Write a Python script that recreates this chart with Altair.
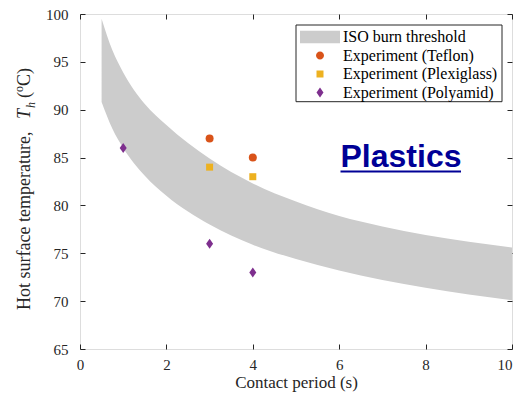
import altair as alt
import pandas as pd

# ISO burn threshold band
contact_time = [0.5, 0.75, 1, 1.5, 2, 3, 4, 5, 6, 7, 8, 9, 10]
iso_upper = [99.5, 96.2, 93.9, 90.6, 88.4, 84.9, 82.3, 80.4, 78.9, 77.8, 76.9, 76.2, 75.6]
iso_lower = [90.8, 88.0, 86.0, 83.1, 81.0, 78.0, 75.9, 74.4, 73.2, 72.2, 71.4, 70.7, 70.1]

# Experiments
teflon_t = [3, 4]
teflon_T = [87, 85]
plexi_t = [3, 4]
plexi_T = [84, 83]
poly_t = [1, 3, 4]
poly_T = [86, 76, 73]

series = ["ISO burn threshold", "Experiment (Teflon)",
          "Experiment (Plexiglass)", "Experiment (Polyamid)"]
colors = ["#cccccc", "#D95319", "#EDB120", "#7E2F8E"]
x_ticks = [0, 2, 4, 6, 8, 10]
y_ticks = [65, 70, 75, 80, 85, 90, 95, 100]

FONT = "Liberation Serif"
INK = "#262626"

band_df = pd.DataFrame({"t": contact_time, "upper": iso_upper, "lower": iso_lower})
teflon_df = pd.DataFrame({"t": teflon_t, "T": teflon_T})
plexi_df = pd.DataFrame({"t": plexi_t, "T": plexi_T})
poly_df = pd.DataFrame({"t": poly_t, "T": poly_T})
legend_df = pd.DataFrame({"series": series})

xs = alt.Scale(domain=[0, 10], nice=False, zero=False)
ys = alt.Scale(domain=[65, 100], nice=False, zero=False)

common_axis = dict(offset=-5, tickSize=5, domain=False, grid=False,
                   tickColor=INK, tickWidth=1, labelFont=FONT, labelFontSize=15,
                   labelColor=INK, titleFont=FONT, titleFontSize=17,
                   titleColor=INK, titleFontWeight="normal")

band = alt.Chart(band_df).mark_area(color="#cccccc", interpolate="monotone").encode(
    x=alt.X("t:Q", scale=xs,
            axis=alt.Axis(values=x_ticks, orient="bottom", title="Contact period (s)",
                          labelPadding=8, titlePadding=2,
                          labelAlign={"condition": {"test": "datum.value == 10", "value": "right"},
                                      "value": "center"},
                          **common_axis)),
    y=alt.Y("upper:Q", scale=ys,
            axis=alt.Axis(values=y_ticks, orient="left", title=None,
                          labelPadding=12, **common_axis)),
    y2="lower:Q",
)

frame_ticks = alt.Chart(band_df).mark_area(opacity=0).encode(
    x=alt.X("t:Q", scale=xs,
            axis=alt.Axis(values=x_ticks, orient="top", title=None, labels=False,
                          **common_axis)),
    y=alt.Y("upper:Q", scale=ys,
            axis=alt.Axis(values=y_ticks, orient="right", title=None, labels=False,
                          **common_axis)),
)

def pts(df, color, shape, size):
    return alt.Chart(df).mark_point(filled=True, opacity=1, color=color,
                                    shape=shape, size=size).encode(
        x=alt.X("t:Q", scale=xs, axis=None),
        y=alt.Y("T:Q", scale=ys, axis=None),
    )

diamond = "M0,-1.25L0.875,0L0,1.25L-0.875,0Z"
teflon = pts(teflon_df, colors[1], "circle", 64)
plexi = pts(plexi_df, colors[2], "square", 49)
poly = pts(poly_df, colors[3], diamond, 64)

leg_shapes = [
    "M-2,-1.56H8V1.56H-2Z",
    "M4,0A1,1 0 1,1 2,0A1,1 0 1,1 4,0Z",
    "M2.125,-0.875H3.875V0.875H2.125Z",
    "M3,-1.25L3.875,0L3,1.25L2.125,0Z",
]

leg = dict(title=None, orient="none", legendX=216, legendY=11,
           symbolSize=64, symbolStrokeWidth=0, symbolOpacity=1,
           labelFont=FONT, labelFontSize=16, labelColor="black",
           labelOffset=27, padding=4, rowPadding=2.5)

# legend frame (drawn under the legend entries)
frame_df = pd.DataFrame({"a": [0]})
legend_box = alt.Chart(frame_df).mark_rect(fill="white", stroke=INK, strokeWidth=1).encode(
    x=alt.value(216), x2=alt.value(422), y=alt.value(11), y2=alt.value(87.7))

legend_layer = alt.Chart(legend_df).mark_point(filled=True, opacity=1, clip=True).encode(
    x=alt.value(-1000),
    y=alt.value(-1000),
    color=alt.Color("series:N", scale=alt.Scale(domain=series, range=colors),
                    legend=alt.Legend(**leg)),
    shape=alt.Shape("series:N", scale=alt.Scale(domain=series, range=leg_shapes),
                    legend=alt.Legend(**leg)),
)

label_df = pd.DataFrame({"txt": ["Plastics"]})
plastics = alt.Chart(label_df).mark_text(
    font="Liberation Sans", fontSize=32, fontWeight="bold", color="#000096",
    align="left", baseline="alphabetic").encode(
    text="txt:N", x=alt.value(260.5), y=alt.value(153.3))
underline = alt.Chart(label_df).mark_rule(color="#000096", strokeWidth=2).encode(
    x=alt.value(260.5), x2=alt.value(381), y=alt.value(157.5))

def ytxt(s, x, y, size=18, style="normal"):
    d = pd.DataFrame({"txt": [s]})
    return alt.Chart(d).mark_text(font=FONT, fontSize=size, fontStyle=style, color=INK,
                                  angle=270, align="left", baseline="alphabetic").encode(
        text="txt:N", x=alt.value(x), y=alt.value(y))

ytitle = [
    ytxt("Hot surface temperature,", -50, 296),
    ytxt("T", -50, 105, style="italic"),
    ytxt("h", -45, 94, size=12, style="italic"),
    ytxt("(", -50, 84),
    ytxt("o", -57, 78, size=12),
    ytxt("C)", -50, 72),
]

chart = alt.layer(band, frame_ticks, teflon, plexi, poly, legend_box, legend_layer,
                  plastics, underline, *ytitle).resolve_axis(
    x="independent", y="independent").properties(
    width=432, height=335,
    autosize=alt.AutoSizeParams(type="none"),
    padding={"left": 72, "top": 6, "right": 1, "bottom": 43},
).configure_view(stroke=INK, strokeWidth=1).configure(background="white")

chart.save("out.html", embed_options={"renderer": "svg", "actions": False})
